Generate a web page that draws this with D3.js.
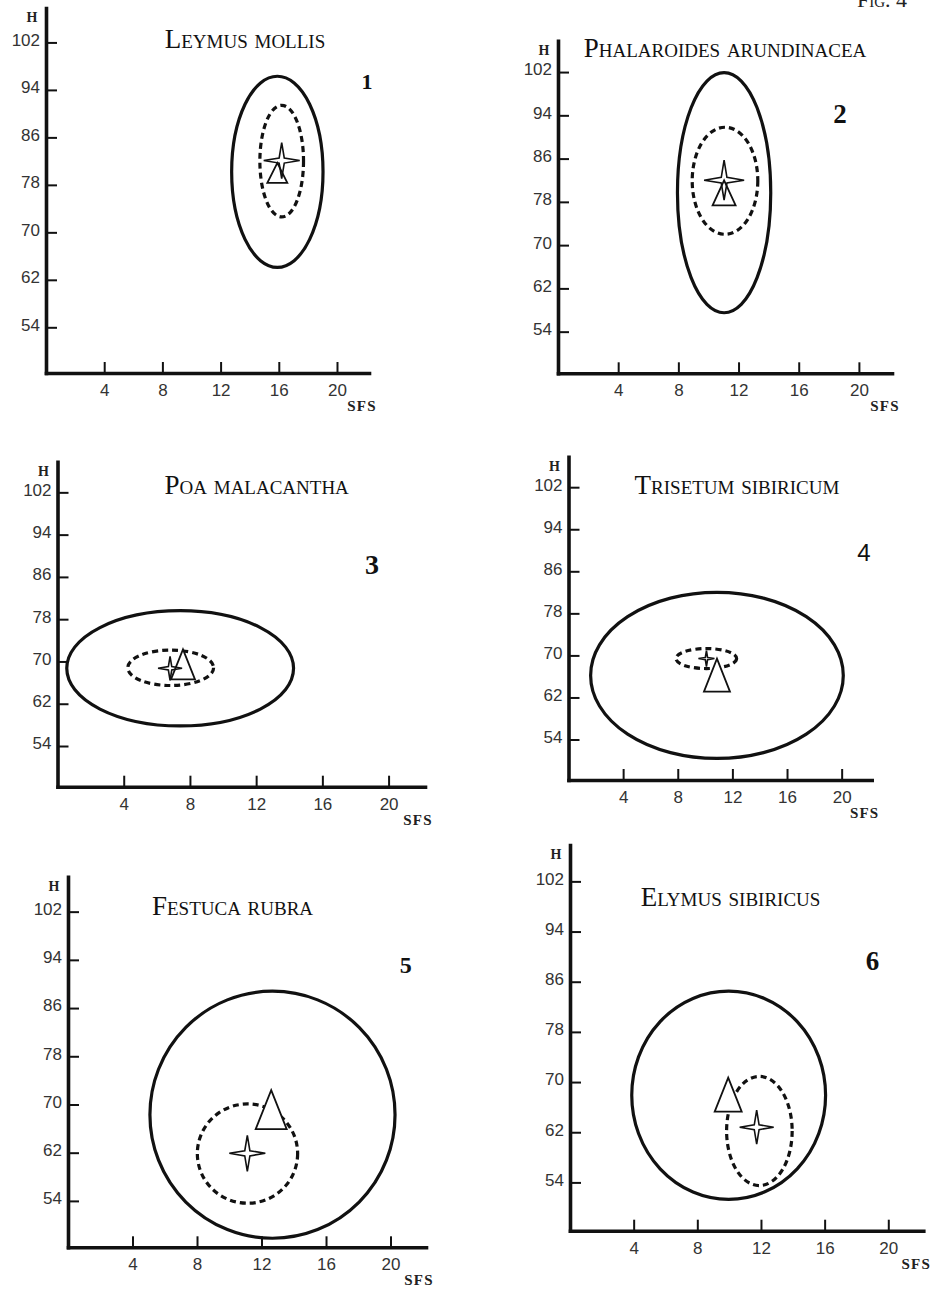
<!DOCTYPE html>
<html><head><meta charset="utf-8">
<script src="https://cdn.jsdelivr.net/npm/d3@7"></script>
<style>body{margin:0;background:#fff}</style>
</head><body><svg id="c" width="935" height="1289"></svg>
<script>
// ---- data ----
const panelNumbers = ["1","2","3","4","5","6"];
const speciesNames = ["Leymus mollis","Phalaroides arundinacea","Poa malacantha","Trisetum sibiricum","Festuca rubra","Elymus sibiricus"];
const xTickValues = [4,8,12,16,20];
const yTickValues = [54,62,70,78,86,94,102];
const xDomain = [0, 22.2];
const yDomain = [46.3, 107.8];
const xAxisLabel = "SFS";
const yAxisLabel = "H";
const figureLabel = "Fig. 4";
// outer (solid) ellipses
const outerCx = [15.9, 11.04, 7.41, 10.87, 12.68, 9.97];
const outerCy = [80.2, 79.7, 68.7, 66.2, 68.3, 67.9];
const outerRx = [3.14, 3.1, 6.85, 9.25, 7.6, 6.09];
const outerRy = [16.1, 22.2, 10.9, 15.8, 20.5, 16.6];
// inner (dashed) ellipses
const innerCx = [16.2, 11.1, 6.84, 10.09, 11.13, 11.9];
const innerCy = [82.0, 81.9, 68.8, 69.4, 61.85, 62.2];
const innerRx = [1.5, 2.18, 2.59, 2.22, 3.11, 2.06];
const innerRy = [9.4, 9.9, 3.35, 1.9, 8.24, 8.7];
// star markers
const starX = [16.2, 11.04, 6.8, 10.1, 11.12, 11.73];
const starY = [82.1, 82.0, 68.7, 69.4, 61.9, 62.8];
// triangle markers (centroid)
const triX = [15.9, 11.04, 7.58, 10.87, 12.6, 9.94];
const triY = [79.45, 78.9, 68.5, 65.2, 68.06, 67.1];

// ---- layout / style ----
const frames = [[46,8,369,373],[558,40.7,892,373.3],[57.5,461.7,425,786.7],[568.5,456.7,871.7,780],[68,876.7,426,1247.3],[570,845,923.3,1230.7]];
const titlePos = [[245,48.3],[725,56.7],[256.7,494],[737,494],[232.5,915],[730.5,905.7]];
const numPos = [[367,89.3,22,"serif"],[840,123.3,27,"serif"],[372,574,28,"serif"],[864,560.7,24,"sans"],[405.8,972.7,24,"serif"],[872.5,970,27,"serif"]];
const starSize = [18,20,12,8,18,17];
const triSize = [[20,20],[23,25],[24,30],[26,33],[31,39],[27,34]];

const SERIF = "'Liberation Serif','Times New Roman',serif";
const SANS = "'Liberation Sans',Arial,sans-serif";
const svg = d3.select("#c");

svg.append("text").attr("x", 882).attr("y", 7).attr("text-anchor","middle")
  .style("font-family", SERIF).style("font-size","22px").style("font-variant","small-caps")
  .attr("fill","#222").text(figureLabel);

function starPath(cx, cy, R) {
  const r = R * 0.2;
  const pts = [];
  for (let i = 0; i < 8; i++) {
    const a = -Math.PI/2 + i * Math.PI/4;
    const rad = i % 2 === 0 ? R : r;
    pts.push([cx + rad*Math.cos(a), cy + rad*Math.sin(a)]);
  }
  return "M" + pts.map(p => p.join(",")).join("L") + "Z";
}
function triPath(cx, cy, w, h) {
  return `M${cx},${cy - 2*h/3}L${cx + w/2},${cy + h/3}L${cx - w/2},${cy + h/3}Z`;
}

panelNumbers.forEach((num, i) => {
  const [L, T, R, B] = frames[i];
  const x = d3.scaleLinear().domain(xDomain).range([L, R]);
  const y = d3.scaleLinear().domain(yDomain).range([B, T]);
  const g = svg.append("g");

  // axes
  const ya = g.append("g").attr("transform", `translate(${L},0)`)
    .call(d3.axisLeft(y).tickValues(yTickValues).tickSize(-11).tickSizeOuter(0).tickPadding(6));
  const xa = g.append("g").attr("transform", `translate(0,${B})`)
    .call(d3.axisBottom(x).tickValues(xTickValues).tickSize(-11).tickSizeOuter(0).tickPadding(11));
  [ya, xa].forEach(a => {
    a.select(".domain").attr("stroke","#111").attr("stroke-width",3.6).attr("stroke-linecap","square");
    a.selectAll(".tick line").attr("stroke","#111").attr("stroke-width",2);
    a.selectAll(".tick text").attr("fill","#333").style("font-family", SANS).style("font-size","17px");
  });
  ya.selectAll(".tick text").attr("dy","0.17em");

  // axis names
  g.append("text").attr("x", L - 14).attr("y", T + 14).attr("text-anchor","middle")
    .style("font-family", SERIF).style("font-weight","bold").style("font-size","14px")
    .attr("fill","#222").text(yAxisLabel);
  g.append("text").attr("x", R - 7).attr("y", B + 38).attr("text-anchor","middle")
    .style("font-family", SERIF).style("font-weight","bold").style("font-size","15px")
    .style("letter-spacing","1.2px").attr("fill","#222").text(xAxisLabel);

  // title
  g.append("text").attr("x", titlePos[i][0]).attr("y", titlePos[i][1]).attr("text-anchor","middle")
    .style("font-family", SERIF).style("font-size","27px").style("font-variant","small-caps")
    .attr("fill","#111").text(speciesNames[i]);
  // panel number
  g.append("text").attr("x", numPos[i][0]).attr("y", numPos[i][1]).attr("text-anchor","middle")
    .style("font-family", numPos[i][3] === "sans" ? SANS : SERIF).style("font-size", numPos[i][2] + "px")
    .style("font-weight", numPos[i][3] === "sans" ? "normal" : "bold")
    .attr("fill","#111").text(num);

  // outer ellipse
  g.append("ellipse").attr("cx", x(outerCx[i])).attr("cy", y(outerCy[i]))
    .attr("rx", x(outerCx[i] + outerRx[i]) - x(outerCx[i]))
    .attr("ry", y(outerCy[i]) - y(outerCy[i] + outerRy[i]))
    .attr("fill","none").attr("stroke","#111").attr("stroke-width",3.2);
  // inner dashed ellipse
  g.append("ellipse").attr("cx", x(innerCx[i])).attr("cy", y(innerCy[i]))
    .attr("rx", x(innerCx[i] + innerRx[i]) - x(innerCx[i]))
    .attr("ry", y(innerCy[i]) - y(innerCy[i] + innerRy[i]))
    .attr("fill","none").attr("stroke","#111").attr("stroke-width",3.2).attr("stroke-dasharray","6,4");
  // triangle
  g.append("path").attr("d", triPath(x(triX[i]), y(triY[i]), triSize[i][0], triSize[i][1]))
    .attr("fill","#fff").attr("stroke","#111").attr("stroke-width",1.8).attr("stroke-linejoin","miter");
  // star
  g.append("path").attr("d", starPath(x(starX[i]), y(starY[i]), starSize[i]))
    .attr("fill","none").attr("stroke","#111").attr("stroke-width",1.6);
});
</script>
</body></html>
